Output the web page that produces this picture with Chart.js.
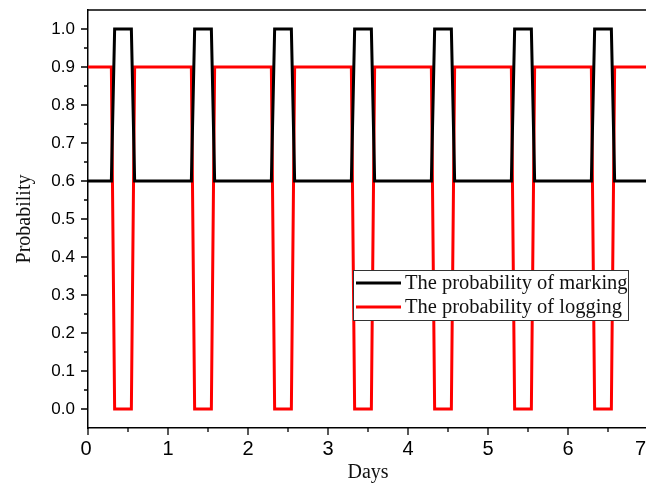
<!DOCTYPE html>
<html>
<head>
<meta charset="utf-8">
<script src="https://cdn.jsdelivr.net/npm/chart.js@4.4.0/dist/chart.umd.min.js"></script>
<style>
  html, body { margin: 0; padding: 0; background: #fff; overflow: hidden; }
  #wrap { width: 660px; height: 483px; }
</style>
</head>
<body>
<div id="wrap"><canvas id="myChart" width="660" height="483"></canvas></div>
<script>
// time in days (pulse edges at hours 7, 8, 13, 14 of each day)
const days = [0,
  0.292, 0.333, 0.542, 0.583,
  1.292, 1.333, 1.542, 1.583,
  2.292, 2.333, 2.542, 2.583,
  3.292, 3.333, 3.542, 3.583,
  4.292, 4.333, 4.542, 4.583,
  5.292, 5.333, 5.542, 5.583,
  6.292, 6.333, 6.542, 6.583,
  7];
const marking = [0.6,
  0.6, 1.0, 1.0, 0.6,
  0.6, 1.0, 1.0, 0.6,
  0.6, 1.0, 1.0, 0.6,
  0.6, 1.0, 1.0, 0.6,
  0.6, 1.0, 1.0, 0.6,
  0.6, 1.0, 1.0, 0.6,
  0.6, 1.0, 1.0, 0.6,
  0.6];
const logging = [0.9,
  0.9, 0.0, 0.0, 0.9,
  0.9, 0.0, 0.0, 0.9,
  0.9, 0.0, 0.0, 0.9,
  0.9, 0.0, 0.0, 0.9,
  0.9, 0.0, 0.0, 0.9,
  0.9, 0.0, 0.0, 0.9,
  0.9, 0.0, 0.0, 0.9,
  0.9];
const seriesNames = ['The probability of marking', 'The probability of logging'];
const xTicks = [0, 1, 2, 3, 4, 5, 6, 7];
const xTickLabels = ['0', '1', '2', '3', '4', '5', '6', '7'];
const xMinor = [0.5, 1.5, 2.5, 3.5, 4.5, 5.5, 6.5];
const yTicks = [0, 0.1, 0.2, 0.3, 0.4, 0.5, 0.6, 0.7, 0.8, 0.9, 1.0];
const yMinor = [0.05, 0.15, 0.25, 0.35, 0.45, 0.55, 0.65, 0.75, 0.85, 0.95];

function toPoints(ys) {
  return days.map((d, i) => ({x: d, y: ys[i]}));
}

// ticks, x labels, top frame line, boxed legend
const framePlugin = {
  id: 'frame',
  afterDatasetsDraw(chart) {
    const ctx = chart.ctx;
    const area = chart.chartArea;
    const xs = chart.scales.x, ys = chart.scales.y;
    ctx.save();
    ctx.strokeStyle = '#000';
    ctx.lineWidth = 1.5;
    ctx.beginPath();
    ctx.moveTo(area.left, area.top);
    ctx.lineTo(area.right + 20, area.top);
    ctx.stroke();
    ctx.lineWidth = 1.3;
    ctx.beginPath();
    xTicks.forEach(v => { const p = xs.getPixelForValue(v); ctx.moveTo(p, area.bottom); ctx.lineTo(p, area.bottom + 7); });
    xMinor.forEach(v => { const p = xs.getPixelForValue(v); ctx.moveTo(p, area.bottom); ctx.lineTo(p, area.bottom + 4); });
    yTicks.forEach(v => { const p = ys.getPixelForValue(v); ctx.moveTo(area.left, p); ctx.lineTo(area.left - 7, p); });
    yMinor.forEach(v => { const p = ys.getPixelForValue(v); ctx.moveTo(area.left, p); ctx.lineTo(area.left - 4, p); });
    ctx.stroke();

    // x tick labels, last one kept inside the visible 646px
    ctx.fillStyle = '#000';
    ctx.font = '20px "Liberation Sans", Arial';
    ctx.textBaseline = 'top';
    ctx.textAlign = 'center';
    xTicks.forEach((v, i) => {
      let p = xs.getPixelForValue(v);
      const w = ctx.measureText(xTickLabels[i]).width;
      if (p + w / 2 > 646) p = 646 - w / 2;
      ctx.fillText(xTickLabels[i], p - (i === 0 ? 2 : 0), area.bottom + 11);
    });

    // legend
    const lx = 353, ly = 270, lw = 275, lh = 50;
    ctx.fillStyle = '#fff';
    ctx.fillRect(lx, ly, lw, lh);
    ctx.strokeStyle = '#333';
    ctx.lineWidth = 1;
    ctx.strokeRect(lx + 0.5, ly + 0.5, lw, lh);
    ctx.font = '20.5px "Liberation Serif", serif';
    ctx.textAlign = 'left';
    ctx.textBaseline = 'middle';
    chart.data.datasets.forEach((ds, i) => {
      const cy = ly + 13 + i * 24;
      ctx.strokeStyle = ds.borderColor;
      ctx.lineWidth = 3;
      ctx.beginPath();
      ctx.moveTo(lx + 3, cy);
      ctx.lineTo(lx + 48, cy);
      ctx.stroke();
      ctx.fillStyle = '#111';
      ctx.fillText(ds.label, lx + 52, cy + 1);
    });
    ctx.restore();
  }
};

const ctx = document.getElementById('myChart').getContext('2d');
const chart = new Chart(ctx, {
  type: 'line',
  data: {
    datasets: [{
      label: seriesNames[0],
      data: toPoints(marking),
      borderColor: '#000000',
      borderWidth: 3,
      pointRadius: 0,
      tension: 0
    }, {
      label: seriesNames[1],
      data: toPoints(logging),
      borderColor: '#ff0000',
      borderWidth: 3,
      pointRadius: 0,
      tension: 0
    }]
  },
  options: {
    responsive: false,
    animation: false,
    layout: { padding: { top: 10, right: 12, left: 0, bottom: 0 } },
    plugins: { legend: { display: false }, tooltip: { enabled: false } },
    scales: {
      x: {
        type: 'linear',
        min: 0,
        max: 7,
        afterBuildTicks: s => { s.ticks = xTicks.map(v => ({value: v})); },
        afterFit: s => { s.height = 55; s.paddingLeft = 0; s.paddingRight = 0; },
        grid: { display: false },
        border: { display: true, color: '#000', width: 1.5 },
        ticks: { display: false },
        title: { display: true, text: 'Days', color: '#111', padding: 0, font: { family: '"Liberation Serif", serif', size: 20, lineHeight: 1.0 } }
      },
      y: {
        min: -0.05,
        max: 1.05,
        afterBuildTicks: s => { s.ticks = yTicks.map(v => ({value: v})); },
        afterFit: s => { s.width = 88; s.paddingTop = 0; s.paddingBottom = 0; },
        grid: { display: false, drawTicks: true, tickLength: 7 },
        border: { display: true, color: '#000', width: 1.5 },
        ticks: { color: '#000', padding: 6, callback: v => v.toFixed(1), font: { family: '"Liberation Sans", Arial', size: 17 } },
        title: { display: true, text: 'Probability', color: '#111', padding: { top: 13, bottom: 0 }, font: { family: '"Liberation Serif", serif', size: 20 } }
      }
    }
  },
  plugins: [framePlugin]
});
</script>
</body>
</html>
